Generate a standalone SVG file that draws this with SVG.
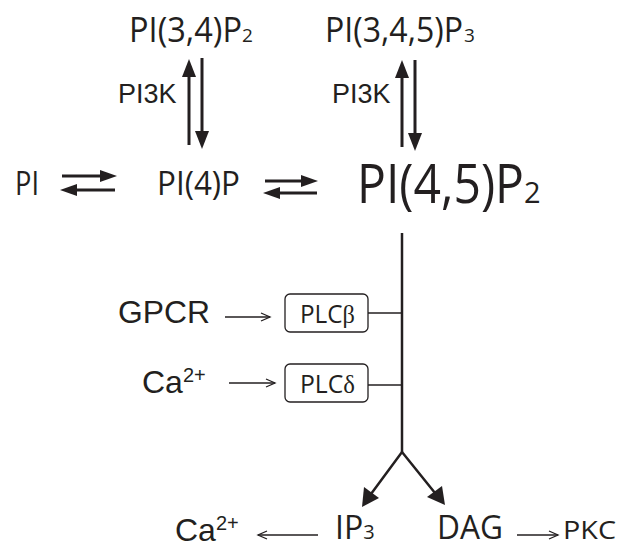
<svg xmlns="http://www.w3.org/2000/svg" width="625" height="548" viewBox="0 0 625 548">
<style>
.m{font-family:"Open Sans","Noto Sans",sans-serif;fill:#231f20}
.a{font-family:"Liberation Sans",Arial,sans-serif;fill:#231f20}
.s{font-family:"Liberation Serif",serif}
.thick{stroke:#231f20;stroke-width:3;fill:none}
.stem{stroke:#231f20;stroke-width:2.5;fill:none}
.thin{stroke:#231f20;stroke-width:1.3;fill:none}
.head{fill:#231f20}
.box{fill:#fff;stroke:#231f20;stroke-width:1.3}
</style>
<rect width="625" height="548" fill="#fff"/>
<g id="connectors">
  <!-- PI <-> PI(4)P -->
  <line class="thick" x1="62" y1="176" x2="102" y2="176"/>
  <polygon class="head" points="117,176 100,170 100,182"/>
  <line class="thick" x1="115" y1="190" x2="75" y2="190"/>
  <polygon class="head" points="60,190 77,184 77,196"/>
  <!-- PI(4)P <-> PI(4,5)P2 -->
  <line class="thick" x1="265" y1="181" x2="303" y2="181"/>
  <polygon class="head" points="318,181 301,175 301,187"/>
  <line class="thick" x1="317" y1="193" x2="278" y2="193"/>
  <polygon class="head" points="263,193 280,187 280,199"/>
  <!-- PI(4)P <-> PI(3,4)P2 -->
  <line class="thick" x1="189" y1="145" x2="189" y2="74"/>
  <polygon class="head" points="189,59 182,77 196,77"/>
  <line class="thick" x1="202" y1="58" x2="202" y2="133"/>
  <polygon class="head" points="202,149 195,131 209,131"/>
  <!-- PI(4,5)P2 <-> PI(3,4,5)P3 -->
  <line class="thick" x1="402" y1="147" x2="402" y2="75"/>
  <polygon class="head" points="402,60 395,78 409,78"/>
  <line class="thick" x1="415" y1="60" x2="415" y2="135"/>
  <polygon class="head" points="415,151 408,133 422,133"/>
  <!-- main stem -->
  <line class="stem" x1="402" y1="233" x2="402" y2="452"/>
  <polyline class="stem" points="371,494 402,452 435,493"/>
  <polygon class="head" points="362,507 364,487 379,498"/>
  <polygon class="head" points="445,505 427,497 442,486"/>
  <!-- PLC branches -->
  <line class="thin" x1="368" y1="313" x2="402" y2="313"/>
  <line class="thin" x1="368" y1="385" x2="402" y2="385"/>
  <!-- GPCR -> PLCb -->
  <line class="thin" x1="225" y1="317" x2="270" y2="317"/>
  <polyline class="thin" points="261,313 270,317 261,321"/>
  <!-- Ca -> PLCd -->
  <line class="thin" x1="229" y1="383" x2="275" y2="383"/>
  <polyline class="thin" points="266,379 275,383 266,387"/>
  <!-- IP3 -> Ca -->
  <line class="thin" x1="318" y1="535" x2="258" y2="535"/>
  <polyline class="thin" points="267,531 258,535 267,539"/>
  <!-- DAG -> PKC -->
  <line class="thin" x1="517" y1="535" x2="558" y2="535"/>
  <polyline class="thin" points="549,531 558,535 549,539"/>
</g>
<g id="pi34p2">
  <text class="m" y="42" font-size="34"><tspan x="129" textLength="113" lengthAdjust="spacingAndGlyphs">PI(3,4)P</tspan><tspan x="242" font-size="19">2</tspan></text>
</g>
<g id="pi345p3">
  <text class="m" y="42" font-size="34"><tspan x="325" textLength="138" lengthAdjust="spacingAndGlyphs">PI(3,4,5)P</tspan><tspan x="464" font-size="19">3</tspan></text>
</g>
<g id="pi3k-left"><text class="a" x="118" y="103" font-size="27">PI3K</text></g>
<g id="pi3k-right"><text class="a" x="332" y="103" font-size="27">PI3K</text></g>
<g id="pi"><text class="m" x="15" y="195" font-size="33" textLength="24" lengthAdjust="spacingAndGlyphs">PI</text></g>
<g id="pi4p"><text class="m" x="157" y="195" font-size="33" textLength="83" lengthAdjust="spacingAndGlyphs">PI(4)P</text></g>
<g id="pi45p2">
  <text class="m" y="203" font-size="54"><tspan x="357" textLength="167" lengthAdjust="spacingAndGlyphs">PI(4,5)P</tspan><tspan x="524" font-size="29">2</tspan></text>
</g>
<g id="gpcr"><text class="a" x="118" y="323" font-size="31" textLength="92" lengthAdjust="spacingAndGlyphs">GPCR</text></g>
<g id="ca-left"><text class="a" x="142" y="393" font-size="32">Ca<tspan font-size="20" dy="-11">2+</tspan></text></g>
<g id="plcb"><rect class="box" x="285" y="294" width="83" height="38" rx="5"/><text class="m" x="300" y="323" font-size="25" textLength="55" lengthAdjust="spacingAndGlyphs">PLC<tspan class="s">β</tspan></text></g>
<g id="plcd"><rect class="box" x="285" y="364" width="83" height="38" rx="5"/><text class="m" x="300" y="393" font-size="25" textLength="55" lengthAdjust="spacingAndGlyphs">PLC<tspan class="s">δ</tspan></text></g>
<g id="ca-bottom"><text class="a" x="175" y="541" font-size="32">Ca<tspan font-size="20" dy="-11">2+</tspan></text></g>
<g id="ip3"><text class="m" x="335" y="539" font-size="32">IP<tspan font-size="20">3</tspan></text></g>
<g id="dag"><text class="m" x="437" y="539" font-size="32" textLength="66" lengthAdjust="spacingAndGlyphs">DAG</text></g>
<g id="pkc"><text class="m" x="563" y="539" font-size="25" textLength="53" lengthAdjust="spacingAndGlyphs">PKC</text></g>
</svg>
